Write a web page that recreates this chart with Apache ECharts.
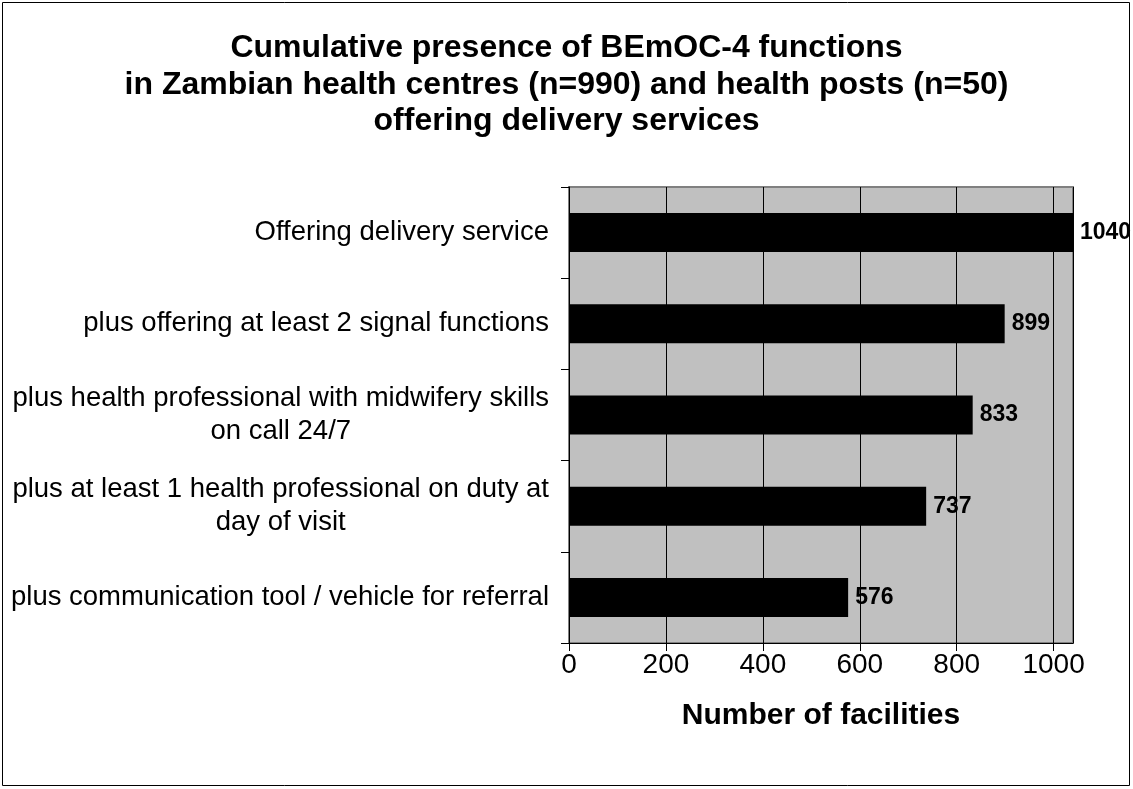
<!DOCTYPE html>
<html>
<head>
<meta charset="utf-8">
<script src="https://cdn.jsdelivr.net/npm/echarts@6/dist/echarts.min.js"></script>
<style>
  html, body { margin: 0; padding: 0; background: #fff; }
  #chart { width: 1133px; height: 789px; }
</style>
</head>
<body>
<div id="chart"></div>
<script>
// categories top to bottom
const categories = [
  "Offering delivery service",
  "plus offering at least 2 signal functions",
  "plus health professional with midwifery skills\non call 24/7",
  "plus at least 1 health professional on duty at\nday of visit",
  "plus communication tool / vehicle for referral"
];
const facilities = [1040, 899, 833, 737, 576];
const xTicks = [0, 200, 400, 600, 800, 1000];

const font = "'Liberation Sans', Arial, sans-serif";

const myChart = echarts.init(document.getElementById("chart"));
myChart.setOption({
  animation: false,
  title: {
    text: "Cumulative presence of BEmOC-4 functions\nin Zambian health centres (n=990) and health posts (n=50)\noffering delivery services",
    left: "center",
    top: 25,
    textStyle: { fontFamily: font, fontSize: 32, fontWeight: "bold", color: "#000", lineHeight: 36.5 }
  },
  graphic: [{
    type: "rect",
    shape: { x: 2.5, y: 2.5, width: 1127, height: 783 },
    style: { fill: "none", stroke: "#000", lineWidth: 1 }
  }],
  grid: {
    left: 569, right: 60, top: 187, bottom: 146,
    show: true, backgroundColor: "#c0c0c0", borderColor: "#808080", borderWidth: 2
  },
  xAxis: {
    type: "value",
    min: 0, max: 1040, interval: 200,
    name: "Number of facilities",
    nameLocation: "middle",
    nameGap: 58,
    nameTextStyle: { fontFamily: font, fontSize: 30, fontWeight: "bold", color: "#000" },
    axisLine: { show: true, lineStyle: { color: "#000", width: 1 } },
    axisTick: { show: true, length: 8, lineStyle: { color: "#000" } },
    axisLabel: {
      fontFamily: font, fontSize: 28, color: "#000", margin: 8,
      showMaxLabel: false,
      formatter: (v) => xTicks.indexOf(v) >= 0 ? String(v) : ""
    },
    splitLine: { show: true, lineStyle: { color: "#000", width: 1 } }
  },
  yAxis: {
    type: "category",
    inverse: true,
    data: categories,
    axisLine: { show: true, lineStyle: { color: "#000", width: 1 } },
    axisTick: { show: true, length: 8, lineStyle: { color: "#000" } },
    axisLabel: {
      margin: 20,
      formatter: (v) => v.split("\n").map((s) => "{c|" + s + "}").join("\n"),
      rich: {
        c: { fontFamily: font, fontSize: 27.5, color: "#000", align: "center", lineHeight: 33 }
      }
    }
  },
  series: [{
    type: "bar",
    data: facilities,
    barWidth: 39,
    itemStyle: { color: "#000" },
    label: {
      show: true, position: "right", distance: 7,
      fontFamily: font, fontSize: 23, fontWeight: "bold", color: "#000"
    }
  }]
});
</script>
</body>
</html>
